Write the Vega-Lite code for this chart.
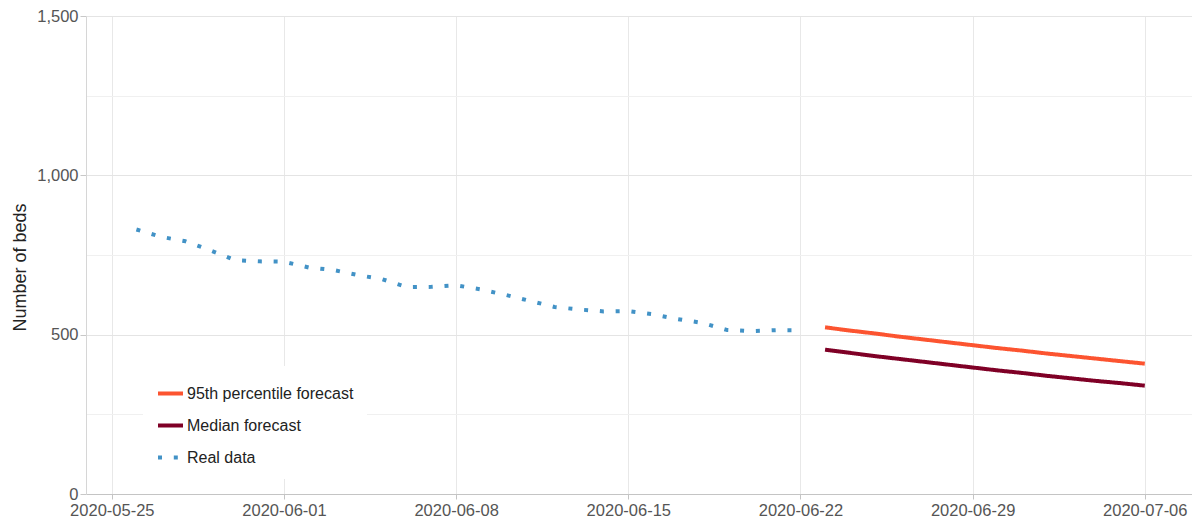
{
  "$schema": "https://vega.github.io/schema/vega-lite/v6.json",
  "autosize": {"type": "none"},
  "padding": {"left": 86, "top": 16, "right": 0, "bottom": 26},
  "width": 1106,
  "height": 478,
  "config": {
    "font": "Liberation Sans",
    "view": {"stroke": null},
    "background": "#ffffff"
  },
  "data": {
    "values": [
      {"date": "2020-05-26", "value": 830, "series": "Real data"},
      {"date": "2020-05-27", "value": 807, "series": "Real data"},
      {"date": "2020-05-28", "value": 793, "series": "Real data"},
      {"date": "2020-05-29", "value": 765, "series": "Real data"},
      {"date": "2020-05-30", "value": 734, "series": "Real data"},
      {"date": "2020-05-31", "value": 730, "series": "Real data"},
      {"date": "2020-06-01", "value": 729, "series": "Real data"},
      {"date": "2020-06-02", "value": 711, "series": "Real data"},
      {"date": "2020-06-03", "value": 703, "series": "Real data"},
      {"date": "2020-06-04", "value": 687, "series": "Real data"},
      {"date": "2020-06-05", "value": 674, "series": "Real data"},
      {"date": "2020-06-06", "value": 649, "series": "Real data"},
      {"date": "2020-06-07", "value": 650, "series": "Real data"},
      {"date": "2020-06-08", "value": 655, "series": "Real data"},
      {"date": "2020-06-09", "value": 642, "series": "Real data"},
      {"date": "2020-06-10", "value": 625, "series": "Real data"},
      {"date": "2020-06-11", "value": 606, "series": "Real data"},
      {"date": "2020-06-12", "value": 587, "series": "Real data"},
      {"date": "2020-06-13", "value": 579, "series": "Real data"},
      {"date": "2020-06-14", "value": 573, "series": "Real data"},
      {"date": "2020-06-15", "value": 574, "series": "Real data"},
      {"date": "2020-06-16", "value": 564, "series": "Real data"},
      {"date": "2020-06-17", "value": 549, "series": "Real data"},
      {"date": "2020-06-18", "value": 537, "series": "Real data"},
      {"date": "2020-06-19", "value": 515, "series": "Real data"},
      {"date": "2020-06-20", "value": 511, "series": "Real data"},
      {"date": "2020-06-21", "value": 514, "series": "Real data"},
      {"date": "2020-06-22", "value": 514, "series": "Real data"},
      {"date": "2020-06-23", "value": 523, "series": "95th percentile forecast"},
      {"date": "2020-06-24", "value": 513, "series": "95th percentile forecast"},
      {"date": "2020-06-25", "value": 504, "series": "95th percentile forecast"},
      {"date": "2020-06-26", "value": 494, "series": "95th percentile forecast"},
      {"date": "2020-06-27", "value": 485, "series": "95th percentile forecast"},
      {"date": "2020-06-28", "value": 476, "series": "95th percentile forecast"},
      {"date": "2020-06-29", "value": 467, "series": "95th percentile forecast"},
      {"date": "2020-06-30", "value": 458, "series": "95th percentile forecast"},
      {"date": "2020-07-01", "value": 450, "series": "95th percentile forecast"},
      {"date": "2020-07-02", "value": 441, "series": "95th percentile forecast"},
      {"date": "2020-07-03", "value": 433, "series": "95th percentile forecast"},
      {"date": "2020-07-04", "value": 425, "series": "95th percentile forecast"},
      {"date": "2020-07-05", "value": 417, "series": "95th percentile forecast"},
      {"date": "2020-07-06", "value": 409, "series": "95th percentile forecast"},
      {"date": "2020-06-23", "value": 453, "series": "Median forecast"},
      {"date": "2020-06-24", "value": 443, "series": "Median forecast"},
      {"date": "2020-06-25", "value": 433, "series": "Median forecast"},
      {"date": "2020-06-26", "value": 424, "series": "Median forecast"},
      {"date": "2020-06-27", "value": 415, "series": "Median forecast"},
      {"date": "2020-06-28", "value": 406, "series": "Median forecast"},
      {"date": "2020-06-29", "value": 397, "series": "Median forecast"},
      {"date": "2020-06-30", "value": 388, "series": "Median forecast"},
      {"date": "2020-07-01", "value": 380, "series": "Median forecast"},
      {"date": "2020-07-02", "value": 371, "series": "Median forecast"},
      {"date": "2020-07-03", "value": 363, "series": "Median forecast"},
      {"date": "2020-07-04", "value": 355, "series": "Median forecast"},
      {"date": "2020-07-05", "value": 348, "series": "Median forecast"},
      {"date": "2020-07-06", "value": 340, "series": "Median forecast"}
    ]
  },
  "mark": {"type": "line", "strokeWidth": 4, "strokeCap": "butt", "strokeJoin": "round"},
  "encoding": {
    "x": {
      "field": "date",
      "type": "temporal",
      "scale": {
        "type": "utc",
        "nice": false,
        "domain": [
          {"year": 2020, "month": 5, "date": 23, "hours": 22, "minutes": 48, "utc": true},
          {"year": 2020, "month": 7, "date": 7, "hours": 22, "minutes": 5, "utc": true}
        ]
      },
      "axis": {
        "title": null,
        "values": [
          {"year": 2020, "month": 5, "date": 25, "utc": true},
          {"year": 2020, "month": 6, "date": 1, "utc": true},
          {"year": 2020, "month": 6, "date": 8, "utc": true},
          {"year": 2020, "month": 6, "date": 15, "utc": true},
          {"year": 2020, "month": 6, "date": 22, "utc": true},
          {"year": 2020, "month": 6, "date": 29, "utc": true},
          {"year": 2020, "month": 7, "date": 6, "utc": true}
        ],
        "format": "%Y-%m-%d",
        "labelFontSize": 16.5,
        "labelColor": "#555555",
        "labelFlush": false,
        "labelOverlap": false,
        "labelPadding": 3,
        "tickSize": 5,
        "tickColor": "#c4c4c4",
        "domainColor": "#c4c4c4",
        "grid": true,
        "gridColor": "#e8e8e8"
      }
    },
    "y": {
      "field": "value",
      "type": "quantitative",
      "scale": {"domain": [0, 1500], "nice": false, "zero": true},
      "axis": {
        "title": "Number of beds",
        "titleFontSize": 18,
        "titleFontWeight": "normal",
        "titleColor": "#222222",
        "titleX": -66,
        "titleY": 251,
        "titleAngle": 270,
        "titleAlign": "center",
        "titleBaseline": "middle",
        "values": [0, 250, 500, 750, 1000, 1250, 1500],
        "labelExpr": "datum.value % 500 === 0 ? format(datum.value, ',') : ''",
        "labelFontSize": 16.5,
        "labelColor": "#555555",
        "labelPadding": 2,
        "tickSize": 6,
        "tickColor": "#c8c8c8",
        "tickOpacity": {"condition": {"test": "datum.value % 500 === 0", "value": 1}, "value": 0},
        "domainColor": "#d6d6d6",
        "grid": true,
        "gridColor": {"condition": {"test": "datum.value % 500 === 0", "value": "#e4e4e4"}, "value": "#f0f0f0"}
      }
    },
    "color": {
      "field": "series",
      "type": "nominal",
      "scale": {
        "domain": ["95th percentile forecast", "Median forecast", "Real data"],
        "range": ["#fc5430", "#7f0026", "#4292c6"]
      },
      "legend": {
        "title": null,
        "orient": "none",
        "legendX": 57,
        "legendY": 350,
        "fillColor": "#ffffff",
        "padding": 13,
        "symbolType": "stroke",
        "symbolSize": 625,
        "symbolStrokeWidth": 4,
        "labelFontSize": 16,
        "labelColor": "#222222",
        "labelOffset": 2,
        "labelLimit": 400,
        "rowPadding": 9
      }
    },
    "strokeDash": {
      "field": "series",
      "type": "nominal",
      "scale": {
        "domain": ["95th percentile forecast", "Median forecast", "Real data"],
        "range": [[1, 0], [1, 0], [4, 11.8]]
      },
      "legend": {
        "title": null,
        "orient": "none",
        "legendX": 57,
        "legendY": 350,
        "fillColor": "#ffffff",
        "padding": 13,
        "symbolType": "stroke",
        "symbolSize": 625,
        "symbolStrokeWidth": 4,
        "labelFontSize": 16,
        "labelColor": "#222222",
        "labelOffset": 2,
        "labelLimit": 400,
        "rowPadding": 9
      }
    }
  }
}
